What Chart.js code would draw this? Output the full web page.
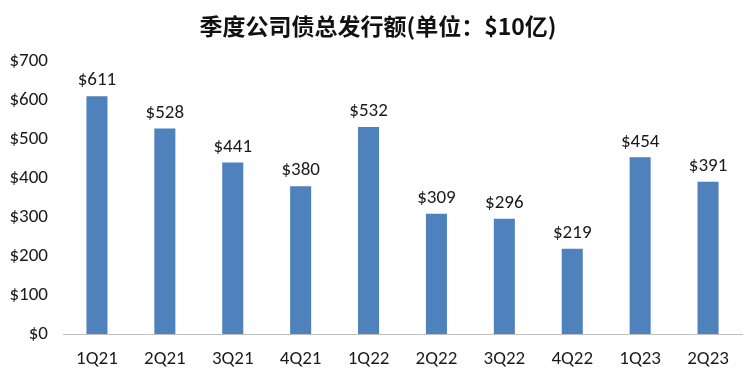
<!DOCTYPE html>
<html>
<head>
<meta charset="utf-8">
<script src="https://cdn.jsdelivr.net/npm/chart.js@4"></script>
<style>
  html, body { margin: 0; padding: 0; background: #fff; }
  #wrap { width: 756px; height: 378px; position: relative; }
</style>
</head>
<body>
<div id="wrap"><canvas id="c"></canvas></div>
<script>
const quarters = ['1Q21', '2Q21', '3Q21', '4Q21', '1Q22', '2Q22', '3Q22', '4Q22', '1Q23', '2Q23'];
const issuance = [611, 528, 441, 380, 532, 309, 296, 219, 454, 391];
const yTicks = [0, 100, 200, 300, 400, 500, 600, 700];

const fontFamily = "Carlito, Calibri, 'Open Sans', sans-serif";

// value labels above each bar
const barLabels = {
  id: 'barLabels',
  afterDatasetsDraw(chart) {
    const ctx = chart.ctx;
    const meta = chart.getDatasetMeta(0);
    ctx.save();
    ctx.fillStyle = '#1a1a1a';
    ctx.font = '19px ' + fontFamily;
    ctx.textAlign = 'center';
    ctx.textBaseline = 'bottom';
    meta.data.forEach((bar, i) => {
      ctx.fillText('$' + issuance[i], bar.x, bar.y - 6);
    });
    ctx.restore();
  }
};

new Chart(document.getElementById('c'), {
  type: 'bar',
  data: {
    labels: quarters,
    datasets: [{
      data: issuance,
      backgroundColor: '#4f81bd',
      barPercentage: 0.31,
      categoryPercentage: 1
    }]
  },
  options: {
    responsive: true,
    maintainAspectRatio: false,
    animation: false,
    plugins: {
      legend: { display: false },
      tooltip: { enabled: false },
      title: {
        display: true,
        text: '季度公司债总发行额(单位：$10亿)',
        color: '#111',
        font: { family: "'Noto Sans CJK SC', sans-serif", size: 23, weight: 'bold' },
        padding: { top: 12, bottom: 22 }
      }
    },
    scales: {
      x: {
        afterFit(axis) { axis.height = 44; },
        grid: { display: false },
        border: { color: '#bfbfbf' },
        ticks: { color: '#1a1a1a', padding: 6, font: { family: fontFamily, size: 19 }, maxRotation: 0 }
      },
      y: {
        min: 0,
        max: 700,
        afterBuildTicks(axis) { axis.ticks = yTicks.map(v => ({ value: v })); },
        afterFit(axis) { axis.width = 63; },
        grid: { display: false, drawTicks: false },
        border: { display: false },
        ticks: {
          color: '#1a1a1a',
          padding: 15,
          font: { family: fontFamily, size: 19 },
          callback: v => '$' + v
        }
      },
      // empty right axis, keeps the margin without moving the title off centre
      spacer: {
        position: 'right',
        afterFit(axis) { axis.width = 14; },
        grid: { display: false, drawTicks: false },
        border: { display: false },
        ticks: { display: false }
      }
    }
  },
  plugins: [barLabels]
});
</script>
</body>
</html>
